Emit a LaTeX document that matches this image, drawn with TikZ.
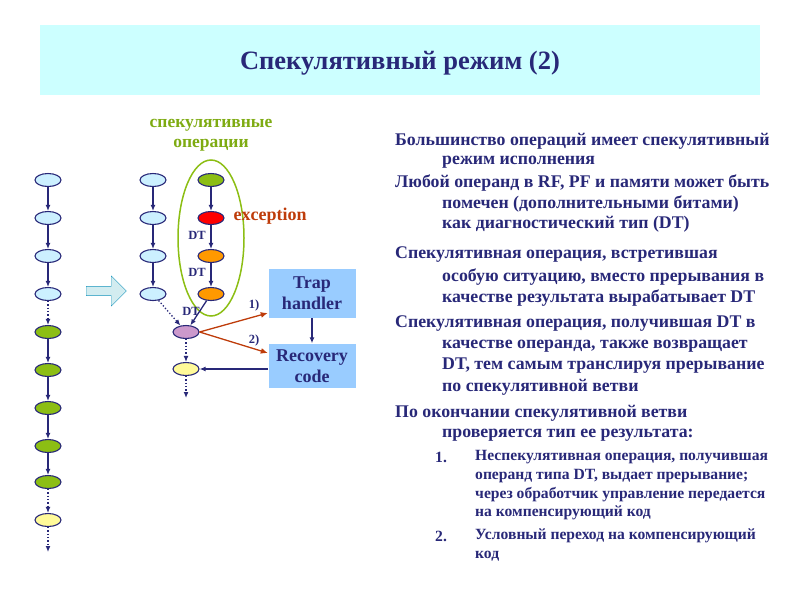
\documentclass[tikz,border=0pt]{standalone}
\usepackage{fontspec}
\setmainfont{Liberation Serif}
\usetikzlibrary{arrows.meta,shapes.arrows,shapes.geometric}
\definecolor{navy}{RGB}{40,40,120}
\definecolor{cyanbg}{RGB}{204,255,255}
\definecolor{lcy}{RGB}{204,240,255}
\definecolor{grn}{RGB}{140,190,20}
\definecolor{org}{RGB}{255,153,0}
\definecolor{boxb}{RGB}{153,204,255}
\definecolor{exc}{RGB}{190,60,10}
\tikzset{
 op/.style={ellipse,draw=navy,line width=1.1pt,minimum width=26pt,minimum height=13pt,inner sep=0pt},
 flow/.style={draw=navy,line width=1.3pt,-{Latex[length=6pt,width=5pt]}},
 dflow/.style={flow,dotted},
 rflow/.style={draw=exc,line width=1.3pt,-{Latex[length=7pt,width=6pt]}},
 bx/.style={fill=boxb,draw=white,minimum width=88pt,inner sep=2pt,font=\bfseries\fontsize{18}{21}\selectfont,text=navy,align=center},
 tx/.style={anchor=west,font=\bfseries\fontsize{17.8}{20}\selectfont,text=navy,inner sep=0pt},
 lx/.style={anchor=west,font=\bfseries\fontsize{15.6}{18}\selectfont,text=navy,inner sep=0pt},
 dt/.style={font=\bfseries\fontsize{12.5}{14}\selectfont,text=navy,inner sep=0pt}
}
\begin{document}
\begin{tikzpicture}[x=1pt,y=-1pt]
\useasboundingbox (0,0) rectangle (800,600);
\fill[cyanbg] (40,25) rectangle (760,95);
\node[font=\bfseries\fontsize{26.5}{30}\selectfont,text=navy] (t) at (400,63) {Спекулятивный режим (2)};
% left column
\foreach \i/\y/\c in {1/180/lcy,2/218/lcy,3/256/lcy,4/294/lcy,5/332/grn,6/370/grn,7/408/grn,8/446/grn,9/482/grn,10/520/yellow!40}
  \node[op,fill=\c] (L\i) at (48,\y) {};
\foreach \a/\b in {1/2,2/3,3/4,5/6,6/7,7/8,8/9} \draw[flow] (L\a) -- (L\b);
\draw[dflow] (L4) -- (L5);
\draw[dflow] (L9) -- (L10);
\coordinate (Lend) at (48,552);
\draw[dflow] (L10) -- (Lend);
% big arrow
\node[single arrow,draw=navy!50!cyan,fill=lcy!70!teal!40,minimum height=40pt,minimum width=30pt,single arrow head extend=5pt,inner sep=2pt] (bigarr) at (104,291) {};
% middle column
\foreach \i/\y in {1/180,2/218,3/256,4/294}
  \node[op,fill=lcy] (M\i) at (153,\y) {};
\foreach \a/\b in {1/2,2/3,3/4} \draw[flow] (M\a) -- (M\b);
\node[op,fill=grn] (S1) at (211,180) {};
\node[op,fill=red] (S2) at (211,218) {};
\node[op,fill=org] (S3) at (211,256) {};
\node[op,fill=org] (S4) at (211,294) {};
\foreach \a/\b in {1/2,2/3,3/4} \draw[flow] (S\a) -- (S\b);
\node[draw=grn,line width=1.5pt,ellipse,minimum width=66pt,minimum height=156pt] (ov) at (211,238) {};
\node[font=\bfseries\fontsize{17.5}{20}\selectfont,text=grn!90!black,align=center] (spl) at (211,135) {спекулятивные\\операции};
\node[font=\bfseries\fontsize{18}{20}\selectfont,text=exc,anchor=west] (exc) at (230,216) {exception};
\node[dt] (d1) at (197,235) {DT};
\node[dt] (d2) at (197,272) {DT};
\node[dt] (d3) at (191,311) {DT};
\node[op,fill=violet!40] (P) at (186,332) {};
\node[op,fill=yellow!40] (Y) at (186,369) {};
\draw[flow] (S4) -- (P);
\draw[dflow] (M4) -- (P);
\draw[dflow] (P) -- (Y);
\coordinate (Yend) at (186,398);
\draw[dflow] (Y) -- (Yend);
\node[bx,minimum height=50pt] (trap) at (312,293) {Trap\\handler};
\node[bx,minimum height=45pt] (rec) at (312,366) {Recovery\\code};
\draw[rflow] (P.east) -- (trap.west|-0,313);
\draw[rflow] (P.east) -- (rec.west|-0,353);
\node[dt] (n1) at (254,305) {1)};
\node[dt] (n2) at (254,340) {2)};
\draw[flow] (trap) -- (rec);
\draw[flow] (rec.west|-Y) -- (Y);
% text
\node[tx] at (395,141) {Большинство операций имеет спекулятивный};
\node[tx] at (442,162) {режим исполнения};
\node[tx] at (395,183) {Любой операнд в RF, PF и памяти может быть};
\node[tx] at (442,204) {помечен (дополнительными битами)};
\node[tx] at (442,224) {как диагностический тип (DT)};
\node[tx] at (395,255) {Спекулятивная операция, встретившая};
\node[tx] at (442,277) {особую ситуацию, вместо прерывания в};
\node[tx] at (442,298) {качестве результата вырабатывает DT};
\node[tx] at (395,324) {Спекулятивная операция, получившая DT в};
\node[tx] at (442,346) {качестве операнда, также возвращает};
\node[tx] at (442,366) {DT, тем самым транслируя прерывание};
\node[tx] at (442,387) {по спекулятивной ветви};
\node[tx] at (395,413) {По окончании спекулятивной ветви};
\node[tx] at (442,435) {проверяется тип ее результата:};
\node[lx] at (435,457) {1.};
\node[lx] at (475,457) {Неспекулятивная операция, получившая};
\node[lx] at (475,476) {операнд типа DT, выдает прерывание;};
\node[lx] at (475,495) {через обработчик управление передается};
\node[lx] at (475,513) {на компенсирующий код};
\node[lx] at (435,536) {2.};
\node[lx] at (475,536) {Условный переход на компенсирующий};
\node[lx] at (475,556) {код};
\end{tikzpicture}
\end{document}
